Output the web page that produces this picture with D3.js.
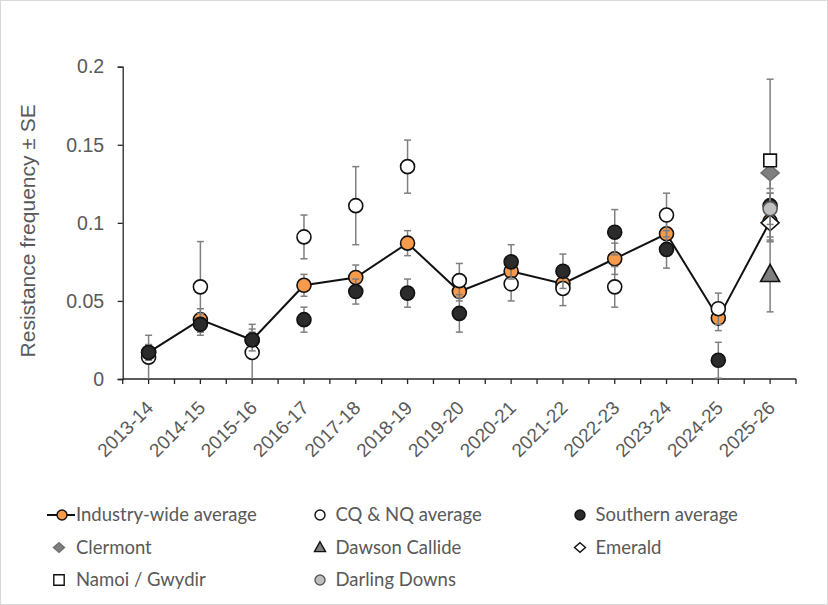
<!DOCTYPE html>
<html>
<head>
<meta charset="utf-8">
<script src="https://cdn.jsdelivr.net/npm/d3@7"></script>
<style>
  body { margin: 0; background: #fff; }
  text { font-family: "Liberation Sans", Arial, sans-serif; fill: #595959; }
  .legend text { font-family: Lato, "Liberation Sans", sans-serif; }
</style>
</head>
<body>
<svg id="chart" width="828" height="605"></svg>
<script>
// Seasons on the x axis
const seasons = ['2013-14', '2014-15', '2015-16', '2016-17', '2017-18', '2018-19', '2019-20',
  '2020-21', '2021-22', '2022-23', '2023-24', '2024-25', '2025-26'];

// Series values (null where there is no point) and their standard errors
const industry   = [0.017, 0.038, 0.025, 0.060, 0.065, 0.087, 0.056, 0.069, 0.061, 0.077, 0.093, 0.039, 0.101];
const industrySE = [0.005, 0.007, 0.005, 0.007, 0.008, 0.008, 0.006, 0.006, 0.006, 0.010, 0.008, 0.008, 0.012];
const cqnq       = [0.014, 0.059, 0.017, 0.091, 0.111, 0.136, 0.063, 0.061, 0.058, 0.059, 0.105, 0.045, null];
const cqnqSE     = [0.014, 0.029, 0.018, 0.014, 0.025, 0.017, 0.011, 0.011, 0.011, 0.013, 0.014, 0.010, null];
const southern   = [0.017, 0.035, 0.025, 0.038, 0.056, 0.055, 0.042, 0.075, 0.069, 0.094, 0.083, 0.012, 0.111];
const southernSE = [0.005, 0.007, 0.007, 0.008, 0.008, 0.009, 0.012, 0.011, 0.011, 0.0145, 0.012, 0.0115, 0.008];
const clermont   = [null, null, null, null, null, null, null, null, null, null, null, null, 0.132];
const clermontSE = [null, null, null, null, null, null, null, null, null, null, null, null, 0.010];
const dawson     = [null, null, null, null, null, null, null, null, null, null, null, null, 0.067];
const dawsonSE   = [null, null, null, null, null, null, null, null, null, null, null, null, 0.024];
const emerald    = [null, null, null, null, null, null, null, null, null, null, null, null, 0.100];
const emeraldSE  = [null, null, null, null, null, null, null, null, null, null, null, null, 0.012];
const namoi      = [null, null, null, null, null, null, null, null, null, null, null, null, 0.140];
const namoiSE    = [null, null, null, null, null, null, null, null, null, null, null, null, 0.052];
const darling    = [null, null, null, null, null, null, null, null, null, null, null, null, 0.109];
const darlingSE  = [null, null, null, null, null, null, null, null, null, null, null, null, 0.010];

const yTicks = [0, 0.05, 0.1, 0.15, 0.2];

// Series list, in drawing (and legend) order
const series = [
  {name: 'Industry-wide average', values: industry, se: industrySE, shape: 'circle', fill: '#f79a4b', line: true},
  {name: 'CQ & NQ average', values: cqnq, se: cqnqSE, shape: 'circle', fill: '#ffffff'},
  {name: 'Southern average', values: southern, se: southernSE, shape: 'circle', fill: '#2b2b2b'},
  {name: 'Clermont', values: clermont, se: clermontSE, shape: 'diamond', fill: '#7f7f7f', stroke: '#6f6f6f'},
  {name: 'Dawson Callide', values: dawson, se: dawsonSE, shape: 'triangle', fill: '#7f7f7f'},
  {name: 'Emerald', values: emerald, se: emeraldSE, shape: 'diamond', fill: '#ffffff'},
  {name: 'Namoi / Gwydir', values: namoi, se: namoiSE, shape: 'square', fill: '#ffffff'},
  {name: 'Darling Downs', values: darling, se: darlingSE, shape: 'circle', fill: '#bfbfbf', stroke: '#595959'}
];

const svg = d3.select('#chart');

// Outer frame
svg.append('rect')
  .attr('x', 0.5).attr('y', 0.5)
  .attr('width', 827).attr('height', 604)
  .attr('fill', '#fff')
  .attr('stroke', '#d9d9d9');

const plotLeft = 122.7, plotRight = 796, plotTop = 66.7, plotBottom = 379;

const x = d3.scaleBand().domain(seasons).range([plotLeft, plotRight]);
const y = d3.scaleLinear().domain([0, 0.2]).range([plotBottom, plotTop]);

// Marker shapes; r is roughly the half-width in pixels
function markerPath(shape, r) {
  if (shape === 'diamond') {
    return `M0,${-r * 0.88}L${r},0L0,${r * 0.88}L${-r},0Z`;
  }
  if (shape === 'square') {
    return `M${-r},${-r}H${r}V${r}H${-r}Z`;
  }
  if (shape === 'triangle') {
    return `M0,${-r * 1.05}L${r},${r * 0.75}H${-r}Z`;
  }
  return d3.arc()({innerRadius: 0, outerRadius: r, startAngle: 0, endAngle: 2 * Math.PI});
}
const sizes = {circle: 7, diamond: 9, triangle: 9.5, square: 6.3};
const legendSizes = {circle: 5, diamond: 5.5, triangle: 5.5, square: 5.2};

// Y axis
const yAxis = svg.append('g')
  .attr('transform', `translate(${plotLeft},0)`)
  .call(d3.axisLeft(y).tickValues(yTicks).tickSize(5).tickPadding(13.5).tickFormat(d => d3.format('')(d)));
yAxis.select('.domain').attr('stroke', '#262626').attr('stroke-width', 1.3);
yAxis.selectAll('.tick line').attr('stroke', '#262626').attr('stroke-width', 1.3);
yAxis.selectAll('text').style('font-size', '19.5px').attr('fill', '#595959');

// X axis: ticks at category centres and between categories
const half = x.bandwidth() / 2;
const xTickPos = d3.range(seasons.length * 2 + 1).map(i => plotLeft + i * half);
svg.append('line')
  .attr('x1', plotLeft).attr('x2', plotRight)
  .attr('y1', plotBottom).attr('y2', plotBottom)
  .attr('stroke', '#262626').attr('stroke-width', 1.3);
svg.append('g').selectAll('line')
  .data(xTickPos).join('line')
  .attr('x1', d => d).attr('x2', d => d)
  .attr('y1', plotBottom).attr('y2', plotBottom + 5)
  .attr('stroke', '#262626').attr('stroke-width', 1.3);
svg.append('g').selectAll('text')
  .data(seasons).join('text')
  .attr('transform', d => `translate(${x(d) + half + 6},${plotBottom + 30}) rotate(-45)`)
  .attr('text-anchor', 'end')
  .style('font-size', '19px')
  .text(d => d);

// Y axis title
svg.append('text')
  .attr('transform', `translate(35,${(plotTop + plotBottom) / 2 + 8}) rotate(-90)`)
  .attr('text-anchor', 'middle')
  .style('font-size', '21px')
  .text('Resistance frequency ± SE');

// Series: error bars, line, markers
const plot = svg.append('g');
series.forEach(s => {
  const pts = seasons.map((d, i) => ({season: d, v: s.values[i], se: s.se[i]})).filter(p => p.v !== null);
  const g = plot.append('g');

  const eb = g.selectAll('g.eb').data(pts).join('g').attr('class', 'eb');
  eb.append('line')
    .attr('x1', p => x(p.season) + half).attr('x2', p => x(p.season) + half)
    .attr('y1', p => y(Math.max(0, p.v - p.se))).attr('y2', p => y(p.v + p.se))
    .attr('stroke', '#7f7f7f').attr('stroke-width', 1.5);
  [1, -1].forEach(sign => {
    eb.filter(p => sign > 0 || p.v - p.se > 0).append('line')
      .attr('x1', p => x(p.season) + half - 3.5).attr('x2', p => x(p.season) + half + 3.5)
      .attr('y1', p => y(p.v + sign * p.se)).attr('y2', p => y(p.v + sign * p.se))
      .attr('stroke', '#7f7f7f').attr('stroke-width', 1.5);
  });

  if (s.line) {
    g.append('path')
      .datum(pts)
      .attr('fill', 'none')
      .attr('stroke', '#111')
      .attr('stroke-width', 2)
      .attr('d', d3.line().x(p => x(p.season) + half).y(p => y(p.v)));
  }

  g.selectAll('path.m').data(pts).join('path')
    .attr('class', 'm')
    .attr('transform', p => `translate(${x(p.season) + half},${y(p.v)})`)
    .attr('d', markerPath(s.shape, sizes[s.shape]))
    .attr('fill', s.fill)
    .attr('stroke', s.stroke || '#111')
    .attr('stroke-width', 1.6);
});

// Legend
const legCols = [59, 320, 580];
const legRows = [515, 547.5, 580];
const legend = svg.append('g').attr('class', 'legend');
series.forEach((s, i) => {
  const cx = legCols[i % 3], cy = legRows[Math.floor(i / 3)];
  const g = legend.append('g').attr('transform', `translate(${cx},${cy})`);
  let mx = 0;
  if (s.line) {
    mx = 3;
    g.append('line').attr('x1', -12).attr('x2', 16).attr('stroke', '#111').attr('stroke-width', 2);
  }
  g.append('path')
    .attr('transform', `translate(${mx},0)`)
    .attr('d', markerPath(s.shape, legendSizes[s.shape]))
    .attr('fill', s.fill)
    .attr('stroke', s.stroke || '#111')
    .attr('stroke-width', 1.4);
  g.append('text')
    .attr('x', i % 3 === 0 ? 17 : 15.5)
    .attr('dy', '0.35em')
    .style('font-size', '18.5px')
    .text(s.name);
});
</script>
</body>
</html>
